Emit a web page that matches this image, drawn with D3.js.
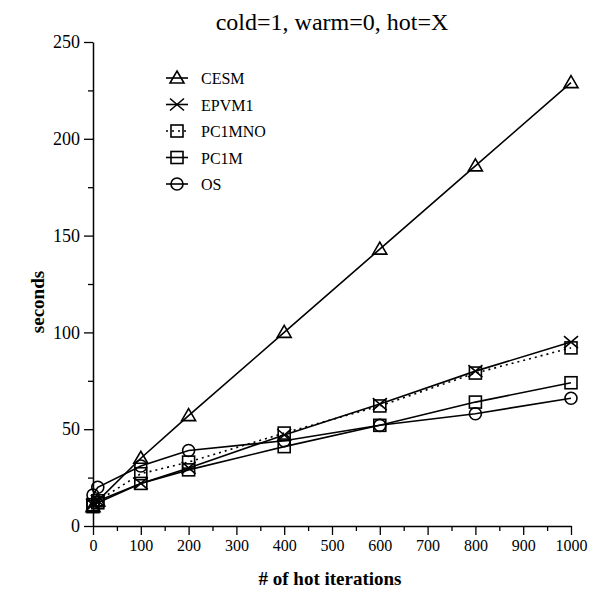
<!DOCTYPE html>
<html><head><meta charset="utf-8">
<script src="https://cdn.jsdelivr.net/npm/d3@7"></script>
<style>body{margin:0;background:#fff}svg{display:block}text{font-family:"Liberation Serif","Times New Roman",serif;fill:#000}</style>
</head><body>
<svg id="c" width="602" height="594"></svg>
<script>
const iterations = [0, 10, 100, 200, 400, 600, 800, 1000];
const cesm   = [10, 13, 35, 57, 100, 143, 186, 229];
const epvm1  = [11, 13, 22, 30, 47, 63, 80, 95];
const pc1mno = [11, 13, 27, 33, 48, 62, 79, 92];
const pc1m   = [10, 12, 22, 29, 41, 52, 64, 74];
const os     = [16, 20, 31, 39, 44, 52, 58, 66];
const seriesNames = ["CESM", "EPVM1", "PC1MNO", "PC1M", "OS"];
const xTicks = [0,100,200,300,400,500,600,700,800,900,1000];
const yTicks = [0,50,100,150,200,250];
const title = "cold=1, warm=0, hot=X";
const xLabel = "# of hot iterations";
const yLabel = "seconds";

const svg = d3.select("#c");
const x = d3.scaleLinear().domain([0,1000]).range([93,571]);
const y = d3.scaleLinear().domain([0,250]).range([526,42]);

const series = [
  {name:seriesNames[0], vals:cesm, shape:"tri", dash:null},
  {name:seriesNames[1], vals:epvm1, shape:"x", dash:null},
  {name:seriesNames[2], vals:pc1mno, shape:"sq", dash:"2,4"},
  {name:seriesNames[3], vals:pc1m, shape:"sq", dash:null},
  {name:seriesNames[4], vals:os, shape:"circ", dash:null}
];

// axes
const gx = svg.append("g").attr("transform","translate(0,"+y(0)+")");
gx.call(d3.axisBottom(x).tickValues(d3.range(0,1001,50)).tickFormat(d=>xTicks.includes(d)?d:"").tickSizeInner(0).tickSizeOuter(0));
gx.selectAll(".tick line").attr("y2",d=>d%100===0?9:5).attr("stroke-width",1.3);
gx.select(".domain").attr("stroke-width",1.5);
gx.selectAll("text").attr("dy","1em").attr("y",9).style("font-size","16px");

const gy = svg.append("g").attr("transform","translate("+x(0)+",0)");
gy.call(d3.axisLeft(y).tickValues(d3.range(0,251,25)).tickFormat(d=>yTicks.includes(d)?d:"").tickSizeInner(0).tickSizeOuter(0));
gy.selectAll(".tick line").attr("x2",d=>d%50===0?-9:-5).attr("stroke-width",1.3);
gy.select(".domain").attr("stroke-width",1.5);
gy.selectAll("text").attr("x",-13).style("font-size","18px");

// lines
const line = d3.line().x((d,i)=>x(iterations[i])).y(d=>y(d));
series.forEach(s=>{
  svg.append("path").datum(s.vals).attr("d",line).attr("fill","none")
    .attr("stroke","#000").attr("stroke-width",1.6)
    .attr("stroke-dasharray",s.dash);
});

function marker(g, shape, cx, cy){
  const st = {fill:"none",stroke:"#000","stroke-width":1.6};
  let m;
  if(shape==="tri"){
    m = g.append("path").attr("d",`M${cx},${cy-7}L${cx+7},${cy+5}L${cx-7},${cy+5}Z`);
  } else if(shape==="x"){
    m = g.append("path").attr("d",`M${cx-7},${cy-6}L${cx+7},${cy+6}M${cx+7},${cy-6}L${cx-7},${cy+6}`);
  } else if(shape==="sq"){
    m = g.append("rect").attr("x",cx-6).attr("y",cy-6).attr("width",12).attr("height",12);
  } else {
    m = g.append("circle").attr("cx",cx).attr("cy",cy).attr("r",6);
  }
  Object.entries(st).forEach(([k,v])=>m.attr(k,v));
}
const mg = svg.append("g");
series.forEach(s=>{
  s.vals.forEach((v,i)=>marker(mg, s.shape, x(iterations[i]), y(v)));
});

// legend
const lg = svg.append("g");
series.forEach((s,i)=>{
  const ly = 78 + i*26.5;
  lg.append("line").attr("x1",166).attr("x2",188).attr("y1",ly).attr("y2",ly)
    .attr("stroke","#000").attr("stroke-width",1.6).attr("stroke-dasharray",s.dash);
  marker(lg, s.shape, 177, ly);
  lg.append("text").attr("x",201).attr("y",ly+6).style("font-size","16px").text(s.name);
});

svg.append("text").attr("x",332).attr("y",30).attr("text-anchor","middle").style("font-size","24px").text(title);
svg.append("text").attr("x",330).attr("y",585).attr("text-anchor","middle").style("font-size","19px").style("font-weight","bold").text(xLabel);
svg.append("text").attr("transform","translate(44,302) rotate(-90)").attr("text-anchor","middle").style("font-size","19px").style("font-weight","bold").text(yLabel);
</script>
</body></html>
